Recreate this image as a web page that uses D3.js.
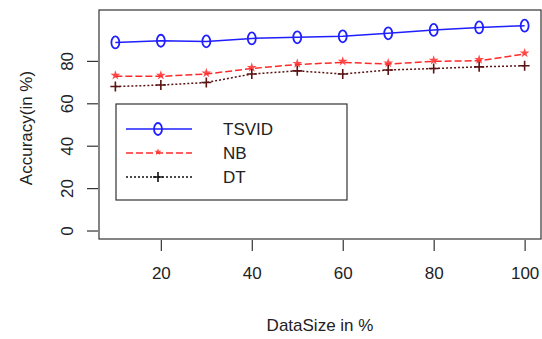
<!DOCTYPE html>
<html>
<head>
<meta charset="utf-8">
<script src="https://cdn.jsdelivr.net/npm/d3@7"></script>
<style>
  body { margin: 0; background: #fff; }
  text { font-family: "Liberation Sans", Arial, sans-serif; fill: #222; }
</style>
</head>
<body>
<div id="chart"></div>
<script>
const dataSize = [10, 20, 30, 40, 50, 60, 70, 80, 90, 100];
const tsvid = [88.7, 89.5, 89.2, 90.6, 91.1, 91.6, 93.0, 94.6, 95.8, 96.6];
const nb = [72.7, 72.7, 73.8, 76.4, 78.3, 79.3, 78.5, 79.8, 80.1, 83.2];
const dt = [67.9, 68.6, 69.8, 73.8, 75.3, 73.8, 75.7, 76.4, 77.2, 77.7];
const xTicks = [20, 40, 60, 80, 100];
const yTicks = [0, 20, 40, 60, 80];
const seriesNames = ['TSVID', 'NB', 'DT'];

const W = 542, H = 339;
const box = { left: 99, right: 541, top: 10, bottom: 239 };

const svg = d3.select('#chart').append('svg')
  .attr('width', W)
  .attr('height', H);

const x = d3.scaleLinear().domain([6.4, 103.6]).range([box.left, box.right]);
const y = d3.scaleLinear().domain([-4, 104]).range([box.bottom, box.top]);

const series = [
  { name: seriesNames[0], values: tsvid, color: '#1f1fff', dash: null, marker: 'o', legendColor: '#1f1fff' },
  { name: seriesNames[1], values: nb, color: '#ff2a2a', dash: '7,3', marker: 'star', legendColor: '#ff2a2a' },
  { name: seriesNames[2], values: dt, color: '#5a1414', dash: '2,2', marker: 'plus', legendColor: '#111' },
];

function drawMarker(g, type, cx, cy, color, small) {
  if (type === 'o') {
    g.append('ellipse')
      .attr('cx', cx).attr('cy', cy)
      .attr('rx', 4).attr('ry', 6)
      .attr('fill', 'none')
      .attr('stroke', color)
      .attr('stroke-width', 1.8);
  } else if (type === 'star') {
    g.append('path')
      .attr('d', d3.symbol().type(d3.symbolStar).size(small ? 16 : 30)())
      .attr('transform', `translate(${cx}, ${cy - 1})`)
      .attr('fill', color)
      .attr('opacity', 0.85);
  } else {
    g.append('path')
      .attr('d', `M${cx - 5},${cy}H${cx + 5}M${cx},${cy - 5}V${cy + 5}`)
      .attr('stroke', color)
      .attr('stroke-width', 1.6);
  }
}

const line = d3.line()
  .x((d, i) => x(dataSize[i]))
  .y(d => y(d));

series.forEach((s) => {
  svg.append('path')
    .attr('d', line(s.values))
    .attr('fill', 'none')
    .attr('stroke', s.color)
    .attr('stroke-width', 1.5)
    .attr('stroke-dasharray', s.dash);
  const mg = svg.append('g');
  s.values.forEach((v, i) => drawMarker(mg, s.marker, x(dataSize[i]), y(v), s.color, false));
});

// plot box
svg.append('rect')
  .attr('x', box.left).attr('y', box.top)
  .attr('width', box.right - box.left)
  .attr('height', box.bottom - box.top)
  .attr('fill', 'none')
  .attr('stroke', '#333')
  .attr('stroke-width', 1.2);

// axes
const xAxis = d3.axisBottom(x).tickValues(xTicks).tickSize(11).tickPadding(16);
const gx = svg.append('g')
  .attr('transform', `translate(0, ${box.bottom + 1})`)
  .call(xAxis);
gx.select('.domain').remove();
gx.selectAll('line').attr('stroke', '#333').attr('stroke-width', 1.2);
gx.selectAll('text').style('font-size', '17px').style('font-family', '"Liberation Sans", Arial, sans-serif').attr('fill', '#222');

const yAxis = d3.axisLeft(y).tickValues(yTicks).tickSize(11);
const gy = svg.append('g')
  .attr('transform', `translate(${box.left - 1}, 0)`)
  .call(yAxis);
gy.select('.domain').remove();
gy.selectAll('line').attr('stroke', '#333').attr('stroke-width', 1.2);
gy.selectAll('text')
  .style('font-size', '17px')
  .style('font-family', '"Liberation Sans", Arial, sans-serif')
  .attr('fill', '#222')
  .attr('x', 0).attr('y', 0).attr('dy', '0.35em')
  .attr('text-anchor', 'middle')
  .attr('transform', 'translate(-31, 0) rotate(-90)');

// axis titles
svg.append('text')
  .attr('x', 320).attr('y', 331)
  .attr('text-anchor', 'middle')
  .style('font-size', '17px')
  .text('DataSize in %');

svg.append('text')
  .attr('transform', `translate(32, 128) rotate(-90)`)
  .attr('text-anchor', 'middle')
  .style('font-size', '17px')
  .text('Accuracy(in %)');

// legend
const legend = svg.append('g');
legend.append('rect')
  .attr('x', 116).attr('y', 104)
  .attr('width', 231).attr('height', 96)
  .attr('fill', '#fff')
  .attr('stroke', '#333')
  .attr('stroke-width', 1.2);

const legendRows = [129, 153, 177];
series.forEach((s, i) => {
  const ly = legendRows[i];
  legend.append('line')
    .attr('x1', 126).attr('x2', 192)
    .attr('y1', ly).attr('y2', ly)
    .attr('stroke', s.legendColor)
    .attr('stroke-width', 1.3)
    .attr('stroke-dasharray', s.dash);
  drawMarker(legend, s.marker, 158, ly, s.legendColor, true);
  legend.append('text')
    .attr('x', 223).attr('y', ly + 6)
    .style('font-size', '17px')
    .text(s.name);
});
</script>
</body>
</html>
